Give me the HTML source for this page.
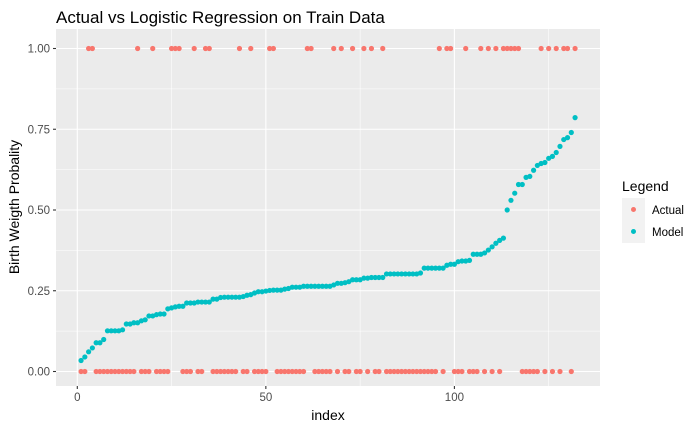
<!DOCTYPE html>
<html><head><meta charset="utf-8"><style>
body{margin:0;background:#fff;font-family:"Liberation Sans",Arial,sans-serif}
svg text{font-family:"Liberation Sans",Arial,sans-serif}
</style></head><body>
<svg id="chart" width="700" height="432" viewBox="0 0 700 432" xmlns="http://www.w3.org/2000/svg">
<text x="56" y="23" font-size="17" fill="#000">Actual vs Logistic Regression on Train Data</text>
<rect x="56" y="29" width="544" height="357" fill="#ebebeb"/>
<g id="grid"></g>
<g id="axes"></g>
<g id="points"></g>
<text x="328" y="420" font-size="14" text-anchor="middle" fill="#000">index</text>
<text transform="translate(19,207) rotate(-90)" font-size="14" text-anchor="middle" fill="#000">Birth Weigth Probality</text>
<g>
<text x="622" y="191" font-size="14" fill="#000">Legend</text>
<rect x="622" y="198" width="23" height="45" fill="#f2f2f2"/>
<circle cx="633.5" cy="209.5" r="2.5" fill="#F8766D"/>
<circle cx="633.5" cy="231.5" r="2.5" fill="#00BFC4"/>
<text x="652" y="214" font-size="11.5" fill="#000">Actual</text>
<text x="652" y="236" font-size="11.5" fill="#000">Model</text>
</g>
</svg>
<script>
const actualOnes = [3,4,16,20,25,26,27,31,34,35,43,46,51,52,61,62,68,70,73,76,78,81,96,98,99,103,107,109,111,113,114,115,116,117,123,125,127,129,130,132];
const modelValues = [0.034,0.045,0.061,0.073,0.089,0.089,0.099,0.126,0.126,0.126,0.126,0.129,0.147,0.147,0.151,0.151,0.157,0.160,0.172,0.172,
0.176,0.178,0.178,0.194,0.197,0.200,0.202,0.202,0.212,0.212,0.212,0.215,0.215,0.215,0.215,0.224,0.224,0.229,0.230,0.230,
0.230,0.230,0.230,0.232,0.236,0.238,0.243,0.247,0.247,0.249,0.251,0.252,0.252,0.252,0.255,0.257,0.261,0.261,0.261,0.264,
0.264,0.264,0.264,0.264,0.264,0.264,0.264,0.268,0.273,0.273,0.275,0.278,0.284,0.284,0.284,0.289,0.289,0.291,0.291,0.291,
0.291,0.302,0.302,0.302,0.302,0.302,0.302,0.302,0.302,0.302,0.305,0.320,0.320,0.320,0.320,0.320,0.320,0.329,0.332,0.332,
0.340,0.342,0.342,0.344,0.363,0.363,0.363,0.367,0.376,0.386,0.397,0.406,0.413,0.500,0.530,0.552,0.579,0.579,0.601,0.604,
0.623,0.638,0.644,0.647,0.660,0.666,0.678,0.697,0.718,0.724,0.740,0.786];
const xTicks = [0,50,100];
const yTicks = [0,0.25,0.5,0.75,1];
const yTickLabels = ["0.00","0.25","0.50","0.75","1.00"];

const NS="http://www.w3.org/2000/svg";
const X0=56,X1=600,Y0=29,Y1=386;
function xs(v){return 77.3+(v-0)*(454.4-77.3)/100;}
function ys(v){return 371.5-v*(371.5-48.5);}
function mk(tag,attrs,parent){const e=document.createElementNS(NS,tag);for(const k in attrs)e.setAttribute(k,attrs[k]);parent.appendChild(e);return e;}
const grid=document.getElementById('grid'),axes=document.getElementById('axes'),pts=document.getElementById('points');
// minor grid
for(let i=0;i<yTicks.length-1;i++){const v=(yTicks[i]+yTicks[i+1])/2;
 const l=mk('line',{x1:X0,x2:X1,y1:ys(v),y2:ys(v),stroke:'#fff','stroke-width':0.55},grid);
 
 }
for(let i=-1;i<xTicks.length;i++){const v=i<0?-25:(xTicks[i]+25);
 const x=xs(v); if(x<X0||x>X1)continue;
 const l=mk('line',{x1:x,x2:x,y1:Y0,y2:Y1,stroke:'#fff','stroke-width':0.55},grid);
 
 }
yTicks.forEach((v,i)=>{
 const l=mk('line',{x1:X0,x2:X1,y1:ys(v),y2:ys(v),stroke:'#fff','stroke-width':1.1},grid);
 
 
 const t=mk('line',{x1:X0-3,x2:X0,y1:ys(v),y2:ys(v),stroke:'#333','stroke-width':1.1},axes);
 
 
 const tx=mk('text',{x:X0-6,y:ys(v)+4,'font-size':11.5,'text-anchor':'end',fill:'#4d4d4d'},axes);
 tx.textContent=yTickLabels[i];
 
 
});
xTicks.forEach(v=>{
 const l=mk('line',{x1:xs(v),x2:xs(v),y1:Y0,y2:Y1,stroke:'#fff','stroke-width':1.1},grid);
 
 
 const t=mk('line',{x1:xs(v),x2:xs(v),y1:Y1,y2:Y1+3,stroke:'#333','stroke-width':1.1},axes);
 
 
 const tx=mk('text',{x:xs(v),y:Y1+15,'font-size':11.5,'text-anchor':'middle',fill:'#4d4d4d'},axes);
 tx.textContent=String(v);
 
 
});
const n=modelValues.length;
for(let i=1;i<=n;i++){
 const a=actualOnes.includes(i)?1:0;
 const c=mk('circle',{cx:xs(i),cy:ys(a),r:2.6,fill:'#F8766D'},pts);
 
 
}
for(let i=1;i<=n;i++){
 const c=mk('circle',{cx:xs(i),cy:ys(modelValues[i-1]),r:2.6,fill:'#00BFC4'},pts);
 
 
}
</script>
</body></html>
